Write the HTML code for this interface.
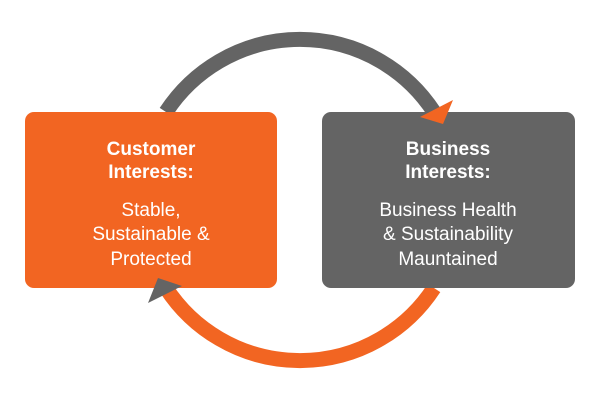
<!DOCTYPE html>
<html><head><style>body{margin:0;background:#fff}</style></head><body>
<svg width="600" height="400" xmlns="http://www.w3.org/2000/svg" style="display:block">
<path d="M166 112 A160 160 0 0 1 434 112" fill="none" stroke="#646464" stroke-width="15"/>
<path d="M434 288 A160 160 0 0 1 166 288" fill="none" stroke="#F26522" stroke-width="15"/>
<rect x="25" y="112" width="252" height="176" rx="9" fill="#F26522"/>
<rect x="322" y="112" width="253" height="176" rx="9" fill="#646464"/>
<polygon points="420,117 453,100 443,124" fill="#F26522"/>
<polygon points="148,303 158,278 182,286" fill="#646464"/>
<g font-family="Liberation Sans, sans-serif" font-size="19" fill="#fff" text-anchor="middle">
<text x="151" y="155" font-weight="bold">Customer</text>
<text x="151" y="178" font-weight="bold">Interests:</text>
<text x="151" y="216">Stable,</text>
<text x="151" y="240">Sustainable &amp;</text>
<text x="151" y="265">Protected</text>
<text x="448" y="155" font-weight="bold">Business</text>
<text x="448" y="178" font-weight="bold">Interests:</text>
<text x="448" y="216">Business Health</text>
<text x="448" y="240">&amp; Sustainability</text>
<text x="448" y="265">Mauntained</text>
</g>
</svg>
</body></html>
